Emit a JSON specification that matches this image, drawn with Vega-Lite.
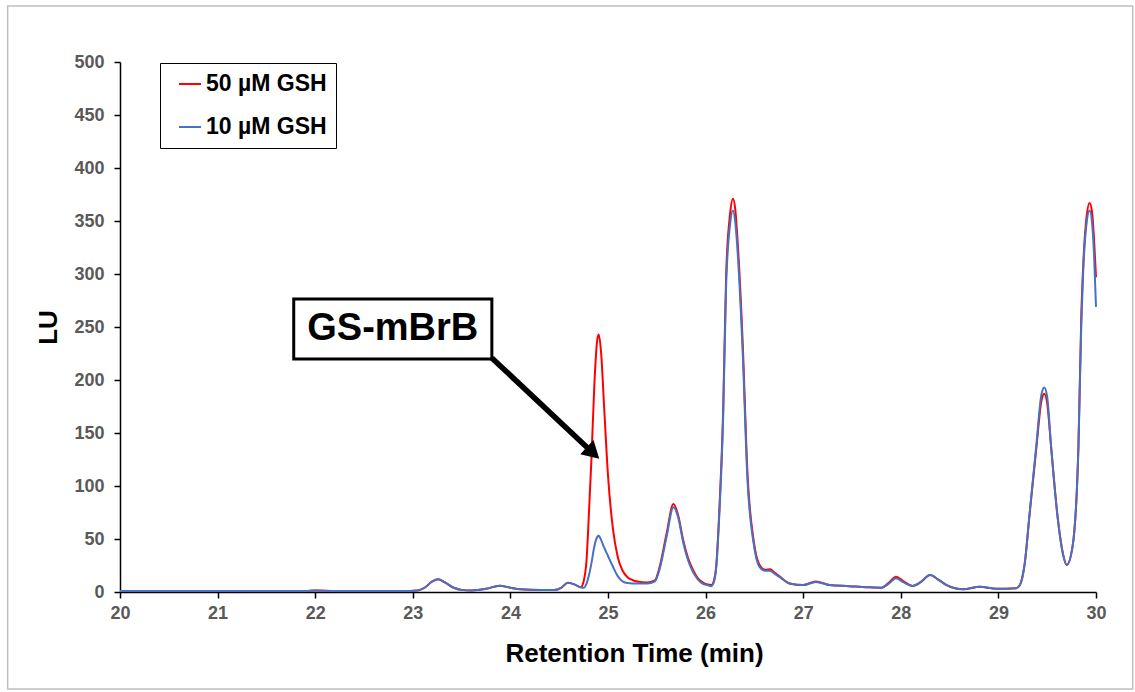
{
  "$schema": "https://vega.github.io/schema/vega-lite/v6.json",
  "width": 976,
  "height": 530,
  "autosize": "none",
  "padding": {"left": 120, "top": 62, "right": 39, "bottom": 100},
  "background": "white",
  "config": {
    "view": {"stroke": null},
    "font": "Liberation Sans",
    "axis": {
      "domainColor": "black", "domainWidth": 1.5,
      "tickColor": "black", "tickWidth": 1.5, "tickSize": 6,
      "labelFont": "Liberation Sans", "labelFontWeight": "bold", "labelFontSize": 18, "labelColor": "#595959",
      "titleFont": "Liberation Sans", "titleFontWeight": "bold", "titleFontSize": 26, "titleColor": "black",
      "grid": false, "labelFlush": false
    }
  },
  "datasets": {
    "one": [{}],
    "chrom": [
      {"t":20.0,"50 µM GSH":1,"10 µM GSH":1},
      {"t":21.0,"50 µM GSH":1,"10 µM GSH":1},
      {"t":21.9,"50 µM GSH":1,"10 µM GSH":1},
      {"t":22.0,"50 µM GSH":1.5,"10 µM GSH":1.5},
      {"t":22.2,"50 µM GSH":1,"10 µM GSH":1},
      {"t":22.9,"50 µM GSH":1,"10 µM GSH":1},
      {"t":23.05,"50 µM GSH":1.5,"10 µM GSH":1.5},
      {"t":23.12,"50 µM GSH":4,"10 µM GSH":4},
      {"t":23.2,"50 µM GSH":10,"10 µM GSH":10},
      {"t":23.26,"50 µM GSH":12,"10 µM GSH":12},
      {"t":23.33,"50 µM GSH":9,"10 µM GSH":9},
      {"t":23.42,"50 µM GSH":4,"10 µM GSH":4},
      {"t":23.5,"50 µM GSH":2,"10 µM GSH":2},
      {"t":23.6,"50 µM GSH":1.5,"10 µM GSH":1.5},
      {"t":23.75,"50 µM GSH":3,"10 µM GSH":3},
      {"t":23.89,"50 µM GSH":6,"10 µM GSH":6},
      {"t":24.0,"50 µM GSH":4,"10 µM GSH":4},
      {"t":24.1,"50 µM GSH":2.5,"10 µM GSH":2.5},
      {"t":24.3,"50 µM GSH":2,"10 µM GSH":2},
      {"t":24.45,"50 µM GSH":2,"10 µM GSH":2},
      {"t":24.52,"50 µM GSH":4,"10 µM GSH":4},
      {"t":24.59,"50 µM GSH":8.8,"10 µM GSH":8.8},
      {"t":24.66,"50 µM GSH":7,"10 µM GSH":7},
      {"t":24.72,"50 µM GSH":4.5,"10 µM GSH":4.5},
      {"t":24.75,"50 µM GSH":10,"10 µM GSH":4},
      {"t":24.78,"50 µM GSH":30,"10 µM GSH":8},
      {"t":24.81,"50 µM GSH":85,"10 µM GSH":18},
      {"t":24.83,"50 µM GSH":125,"10 µM GSH":27},
      {"t":24.86,"50 µM GSH":195,"10 µM GSH":43},
      {"t":24.89,"50 µM GSH":238,"10 µM GSH":52},
      {"t":24.905,"50 µM GSH":243,"10 µM GSH":53},
      {"t":24.93,"50 µM GSH":225,"10 µM GSH":49},
      {"t":24.96,"50 µM GSH":175,"10 µM GSH":42},
      {"t":25.0,"50 µM GSH":110,"10 µM GSH":34},
      {"t":25.05,"50 µM GSH":60,"10 µM GSH":24},
      {"t":25.1,"50 µM GSH":33,"10 µM GSH":15},
      {"t":25.15,"50 µM GSH":20,"10 µM GSH":10},
      {"t":25.2,"50 µM GSH":14,"10 µM GSH":8.5},
      {"t":25.3,"50 µM GSH":10,"10 µM GSH":8},
      {"t":25.4,"50 µM GSH":9,"10 µM GSH":8},
      {"t":25.48,"50 µM GSH":11,"10 µM GSH":10},
      {"t":25.53,"50 µM GSH":24,"10 µM GSH":22},
      {"t":25.6,"50 µM GSH":55,"10 µM GSH":52},
      {"t":25.67,"50 µM GSH":83,"10 µM GSH":80},
      {"t":25.72,"50 µM GSH":72,"10 µM GSH":70},
      {"t":25.77,"50 µM GSH":49,"10 µM GSH":47},
      {"t":25.82,"50 µM GSH":32,"10 µM GSH":30},
      {"t":25.87,"50 µM GSH":21,"10 µM GSH":19},
      {"t":25.92,"50 µM GSH":13,"10 µM GSH":12},
      {"t":25.97,"50 µM GSH":9,"10 µM GSH":8},
      {"t":26.02,"50 µM GSH":7,"10 µM GSH":6.5},
      {"t":26.06,"50 µM GSH":6.5,"10 µM GSH":5.5},
      {"t":26.08,"50 µM GSH":9,"10 µM GSH":8},
      {"t":26.11,"50 µM GSH":26,"10 µM GSH":24},
      {"t":26.14,"50 µM GSH":76,"10 µM GSH":72},
      {"t":26.18,"50 µM GSH":172,"10 µM GSH":165},
      {"t":26.21,"50 µM GSH":298,"10 µM GSH":288},
      {"t":26.25,"50 µM GSH":356,"10 µM GSH":346},
      {"t":26.28,"50 µM GSH":371,"10 µM GSH":360},
      {"t":26.305,"50 µM GSH":360,"10 µM GSH":348},
      {"t":26.33,"50 µM GSH":328,"10 µM GSH":318},
      {"t":26.38,"50 µM GSH":235,"10 µM GSH":226},
      {"t":26.43,"50 µM GSH":110,"10 µM GSH":104},
      {"t":26.49,"50 µM GSH":50,"10 µM GSH":47},
      {"t":26.55,"50 µM GSH":26,"10 µM GSH":24},
      {"t":26.61,"50 µM GSH":21,"10 µM GSH":20},
      {"t":26.66,"50 µM GSH":21.5,"10 µM GSH":20},
      {"t":26.71,"50 µM GSH":18,"10 µM GSH":17},
      {"t":26.76,"50 µM GSH":14.5,"10 µM GSH":14},
      {"t":26.86,"50 µM GSH":8,"10 µM GSH":8},
      {"t":27.0,"50 µM GSH":6.5,"10 µM GSH":6.5},
      {"t":27.13,"50 µM GSH":10,"10 µM GSH":9.5},
      {"t":27.27,"50 µM GSH":6.5,"10 µM GSH":6.5},
      {"t":27.47,"50 µM GSH":5.5,"10 µM GSH":5.5},
      {"t":27.65,"50 µM GSH":4.5,"10 µM GSH":4.5},
      {"t":27.8,"50 µM GSH":4,"10 µM GSH":4},
      {"t":27.88,"50 µM GSH":9,"10 µM GSH":8},
      {"t":27.95,"50 µM GSH":14.5,"10 µM GSH":13},
      {"t":28.03,"50 µM GSH":10,"10 µM GSH":9},
      {"t":28.12,"50 µM GSH":5.7,"10 µM GSH":5.7},
      {"t":28.2,"50 µM GSH":9,"10 µM GSH":9},
      {"t":28.3,"50 µM GSH":16,"10 µM GSH":16},
      {"t":28.38,"50 µM GSH":12,"10 µM GSH":12},
      {"t":28.47,"50 µM GSH":6.5,"10 µM GSH":6.5},
      {"t":28.64,"50 µM GSH":2.5,"10 µM GSH":2.5},
      {"t":28.81,"50 µM GSH":5,"10 µM GSH":5},
      {"t":28.98,"50 µM GSH":3,"10 µM GSH":3},
      {"t":29.18,"50 µM GSH":3.5,"10 µM GSH":3.5},
      {"t":29.22,"50 µM GSH":6.6,"10 µM GSH":6.6},
      {"t":29.27,"50 µM GSH":27,"10 µM GSH":27},
      {"t":29.32,"50 µM GSH":74,"10 µM GSH":74},
      {"t":29.39,"50 µM GSH":137,"10 µM GSH":140},
      {"t":29.44,"50 µM GSH":180,"10 µM GSH":186},
      {"t":29.47,"50 µM GSH":187,"10 µM GSH":193},
      {"t":29.5,"50 µM GSH":178,"10 µM GSH":184},
      {"t":29.54,"50 µM GSH":137,"10 µM GSH":137},
      {"t":29.61,"50 µM GSH":68,"10 µM GSH":68},
      {"t":29.66,"50 µM GSH":36.5,"10 µM GSH":36.5},
      {"t":29.7,"50 µM GSH":25.5,"10 µM GSH":25.5},
      {"t":29.76,"50 µM GSH":43,"10 µM GSH":43},
      {"t":29.82,"50 µM GSH":137,"10 µM GSH":137},
      {"t":29.85,"50 µM GSH":263,"10 µM GSH":255},
      {"t":29.87,"50 µM GSH":310,"10 µM GSH":305},
      {"t":29.9,"50 µM GSH":351,"10 µM GSH":345},
      {"t":29.935,"50 µM GSH":367,"10 µM GSH":360},
      {"t":29.96,"50 µM GSH":358,"10 µM GSH":348},
      {"t":29.98,"50 µM GSH":333,"10 µM GSH":318},
      {"t":30.0,"50 µM GSH":297,"10 µM GSH":269}
    ]
  },
  "layer": [
    {
      "data": {"name": "one"},
      "mark": {"type": "rect", "fill": null, "stroke": "#BFBFBF", "strokeWidth": 1.5, "clip": false},
      "encoding": {
        "x": {"datum": 18.849, "type": "quantitative"},
        "x2": {"datum": 30.376},
        "y": {"datum": 552.8, "type": "quantitative"},
        "y2": {"datum": -91.5}
      }
    },
    {
      "data": {"name": "chrom"},
      "transform": [
        {"fold": ["50 µM GSH", "10 µM GSH"], "as": ["series", "lu"]},
        {"filter": "datum.series === '50 µM GSH'"}
      ],
      "mark": {"type": "line", "interpolate": "monotone", "strokeWidth": 2},
      "encoding": {
        "x": {"field": "t", "type": "quantitative",
              "scale": {"domain": [20, 30], "nice": false, "zero": false},
              "axis": {"values": [20,21,22,23,24,25,26,27,28,29,30], "format": "d", "title": "Retention Time (min)", "labelPadding": 6, "titlePadding": 18, "titleX": 514}},
        "y": {"field": "lu", "type": "quantitative",
              "scale": {"domain": [0, 500], "nice": false},
              "axis": {"values": [0,50,100,150,200,250,300,350,400,450,500], "format": "d", "title": "LU", "labelPadding": 10, "titlePadding": 12}},
        "color": {"field": "series", "type": "nominal",
                  "scale": {"domain": ["50 µM GSH", "10 µM GSH"], "range": ["#FF0000", "#4472C4"]},
                  "legend": {"title": null, "orient": "none", "legendX": 40, "legendY": 1,
                             "strokeColor": "black", "padding": 9, "symbolOffset": 9,
                             "symbolType": "stroke", "symbolSize": 484, "symbolStrokeWidth": 2,
                             "labelFont": "Liberation Sans", "labelFontWeight": "bold", "labelFontSize": 23,
                             "labelColor": "black", "labelOffset": 4, "rowPadding": 19, "labelLimit": 300}}
      }
    },
    {
      "data": {"name": "chrom"},
      "transform": [
        {"fold": ["50 µM GSH", "10 µM GSH"], "as": ["series", "lu"]},
        {"filter": "datum.series === '10 µM GSH'"}
      ],
      "mark": {"type": "line", "interpolate": "monotone", "strokeWidth": 2},
      "encoding": {
        "x": {"field": "t", "type": "quantitative"},
        "y": {"field": "lu", "type": "quantitative"},
        "color": {"field": "series", "type": "nominal"}
      }
    },
    {
      "data": {"name": "one"},
      "mark": {"type": "rule", "color": "black", "strokeWidth": 5.5, "strokeCap": "butt"},
      "encoding": {
        "x": {"datum": 23.81, "type": "quantitative"},
        "y": {"datum": 220.8, "type": "quantitative"},
        "x2": {"datum": 24.8},
        "y2": {"datum": 135.1}
      }
    },
    {
      "data": {"name": "one"},
      "mark": {"type": "point", "shape": "triangle-up", "filled": true, "color": "black", "opacity": 1, "size": 380, "angle": 133},
      "encoding": {
        "x": {"datum": 24.847, "type": "quantitative"},
        "y": {"datum": 131.2, "type": "quantitative"}
      }
    },
    {
      "data": {"name": "one"},
      "mark": {"type": "rect", "fill": "white", "stroke": "black", "strokeWidth": 3},
      "encoding": {
        "x": {"datum": 21.78, "type": "quantitative"},
        "x2": {"datum": 23.81},
        "y": {"datum": 276.4, "type": "quantitative"},
        "y2": {"datum": 219.8}
      }
    },
    {
      "data": {"name": "one"},
      "mark": {"type": "text", "text": "GS-mBrB", "font": "Liberation Sans", "fontWeight": "bold", "fontSize": 38, "color": "black", "align": "center", "baseline": "middle"},
      "encoding": {
        "x": {"datum": 22.795, "type": "quantitative"},
        "y": {"datum": 248.1, "type": "quantitative"}
      }
    }
  ]
}
